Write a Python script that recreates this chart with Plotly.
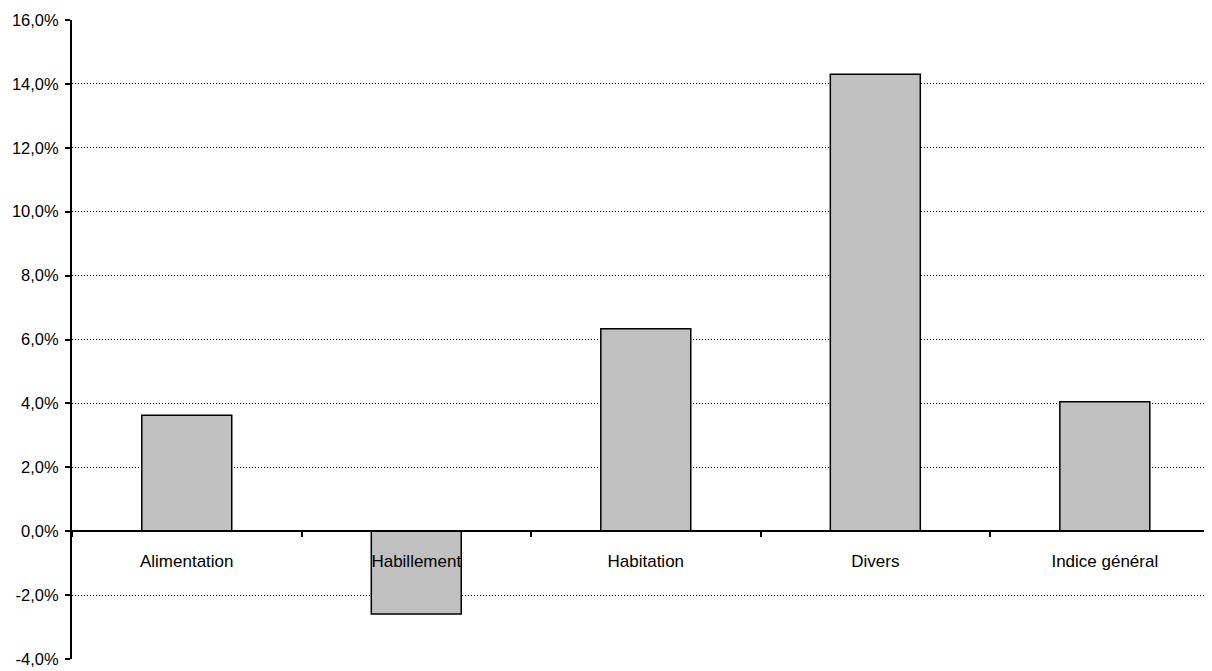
import plotly.graph_objects as go

categories = ["Alimentation", "Habillement", "Habitation", "Divers", "Indice général"]
values = [3.63, -2.59, 6.34, 14.30, 4.05]
y_ticks = [-4, -2, 0, 2, 4, 6, 8, 10, 12, 14, 16]

FONT = "Liberation Sans, Arial, sans-serif"

fig = go.Figure()
fig.add_trace(go.Bar(
    x=categories, y=values,
    marker=dict(color="#C0C0C0", line=dict(color="black", width=1.5)),
    width=0.392,
    hoverinfo="x+y",
))

fig.update_layout(
    width=1204, height=663,
    margin=dict(l=64, r=0, t=12, b=12),
    paper_bgcolor="white", plot_bgcolor="white",
    showlegend=False,
    font=dict(family=FONT, size=16, color="black"),
    xaxis=dict(
        type="category",
        range=[-0.5, 4.467],
        anchor="free", position=0.2,
        showline=True, linecolor="black", linewidth=2,
        showgrid=False, zeroline=False,
        ticks="outside", ticklen=5, tickwidth=1.5, tickcolor="black",
        tickson="boundaries",
        ticklabelstandoff=14,
        tickfont=dict(family=FONT, size=17, color="black"),
    ),
    yaxis=dict(
        range=[-4, 16],
        tickvals=y_ticks,
        ticktext=[f"{v:.1f}%".replace(".", ",") for v in y_ticks],
        showline=True, linecolor="black", linewidth=2,
        ticks="outside", ticklen=5, tickwidth=2, tickcolor="black",
        ticklabelstandoff=3,
        showgrid=True, gridcolor="black", gridwidth=1, griddash="1px,2px",
        zeroline=False,
        tickfont=dict(family=FONT, size=16.5, color="black"),
    ),
)

fig.write_html("out.html")
